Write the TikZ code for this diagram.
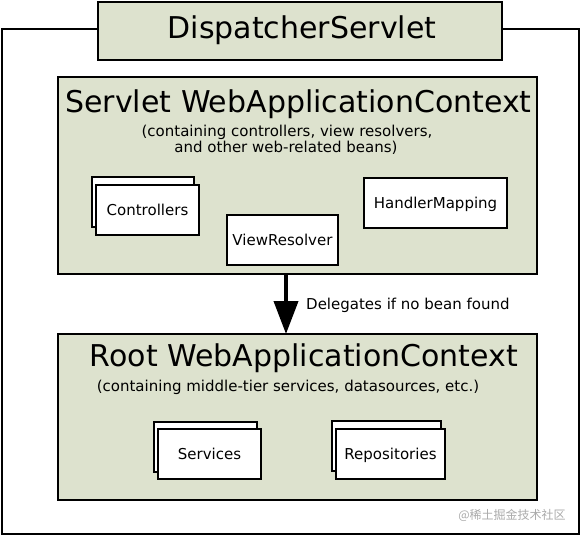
\documentclass[tikz,border=0pt]{standalone}
\usepackage{fontspec}
\setmainfont{DejaVu Sans}
\newfontfamily\cjkfont{Noto Sans CJK SC}
\usetikzlibrary{arrows.meta}
\definecolor{ctxfill}{RGB}{221,226,206}
\definecolor{wmgray}{RGB}{170,170,170}
\tikzset{
  ctxbox/.style={draw=black, line width=2pt, fill=ctxfill, inner sep=0pt},
  beanbox/.style={draw=black, line width=1.6pt, fill=white, inner sep=0pt,
     minimum height=50pt, font=\fontsize{15}{18}\selectfont, text height=1em, text depth=0pt},
  bigtitle/.style={anchor=base, inner sep=0pt, font=\fontsize{30}{36}\selectfont},
  subtitle/.style={anchor=base, inner sep=0pt, font=\fontsize{15}{18}\selectfont, align=center},
  lbl/.style={inner sep=0pt, font=\fontsize{15}{18}\selectfont, text height=0.73em, text depth=0pt}
}
\begin{document}
\begin{tikzpicture}[x=1pt,y=-1pt]
\useasboundingbox (0,0) rectangle (582,536);
% outer frame
\node[draw=black, line width=2pt, minimum width=577pt, minimum height=505pt, inner sep=0pt] (frame) at (290.5,281.5) {};
% dispatcher servlet
\node[ctxbox, minimum width=404pt, minimum height=58pt] (disp) at (300,31) {};
\node[bigtitle] (disptxt) at (302,38) {DispatcherServlet};
% servlet web application context
\node[ctxbox, minimum width=479pt, minimum height=197pt] (swac) at (297.5,175.5) {};
\node[bigtitle] (stitle) at (298.5,112) {Servlet WebApplicationContext};
\node[subtitle] (ssub1) at (287,136) {(containing controllers, view resolvers,};
\node[subtitle] (ssub2) at (286,152) {and other web-related beans)};
\node[beanbox, minimum width=102pt] (ctrlb) at (143,202) {};
\node[beanbox, minimum width=103pt] (ctrl) at (147.5,210) {Controllers};
\node[beanbox, minimum width=111pt] (vr) at (282.5,240) {ViewResolver};
\node[beanbox, minimum width=143pt] (hm) at (435.5,203) {HandlerMapping};
% root web application context
\node[ctxbox, minimum width=479pt, minimum height=166pt] (rwac) at (297.5,417) {};
\node[bigtitle] (rtitle) at (304,366) {Root WebApplicationContext};
\node[subtitle] (rsub) at (288,391) {(containing middle-tier services, datasources, etc.)};
\node[beanbox, minimum width=103pt] (svcb) at (205.5,447) {};
\node[beanbox, minimum width=103pt] (svc) at (209.5,454) {Services};
\node[beanbox, minimum width=109pt] (repb) at (386.5,446) {};
\node[beanbox, minimum width=109pt] (rep) at (390.5,454) {Repositories};
% delegation arrow
\coordinate (atop) at (286,275);
\coordinate (abot) at (286,334);
\draw[line width=4pt, -{Triangle[width=24pt,length=33pt]}] (atop) -- (abot);
\node[lbl, anchor=west] (dlg) at (306,306) {Delegates if no bean found};
% watermark
\node[inner sep=0pt, text=wmgray, font=\cjkfont\fontsize{12}{15}\selectfont] (wm) at (512,515) {@稀土掘金技术社区};
\end{tikzpicture}
\end{document}
